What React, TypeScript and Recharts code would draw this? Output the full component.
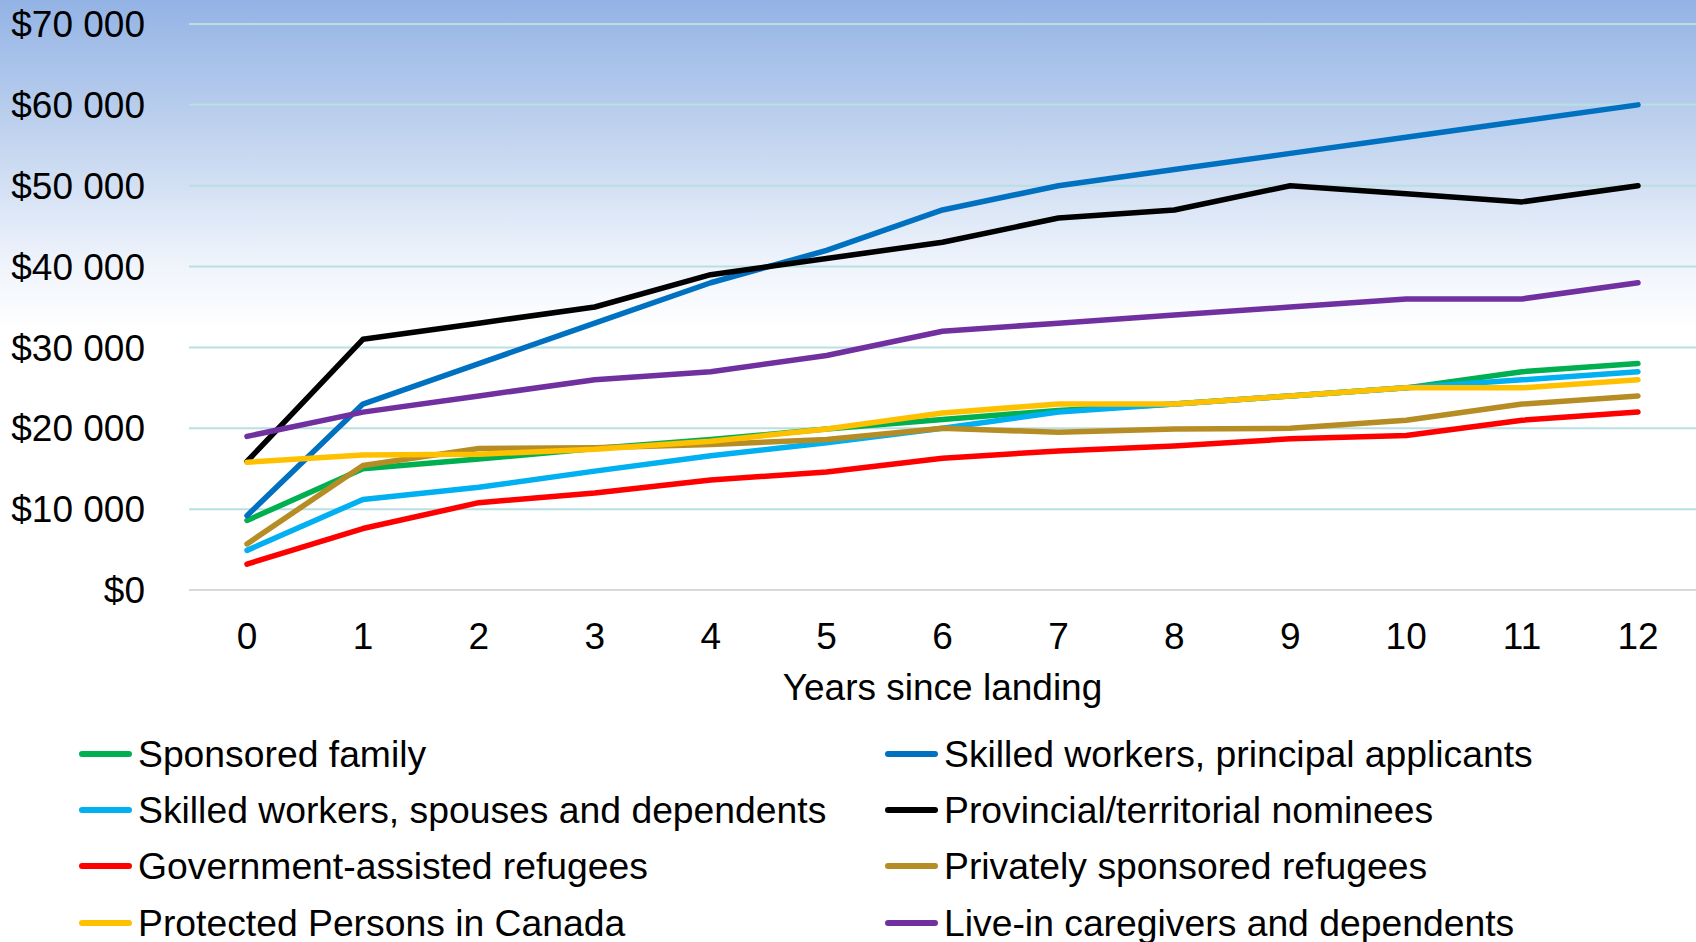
import React from "react";
import {
  LineChart,
  Line,
  XAxis,
  YAxis,
  CartesianGrid,
} from "recharts";

const years = ["0", "1", "2", "3", "4", "5", "6", "7", "8", "9", "10", "11", "12"];
const yTicks = [0, 10000, 20000, 30000, 40000, 50000, 60000, 70000];

const sponsoredFamily = [8600, 15000, 16200, 17500, 18600, 19900, 21100, 22200, 23000, 24000, 25000, 27000, 28000];
const skilledPrincipal = [9200, 23000, 28000, 33000, 38000, 42000, 47000, 50000, 52000, 54000, 56000, 58000, 60000];
const skilledSpouses = [4900, 11200, 12700, 14700, 16600, 18200, 20000, 22000, 23000, 24000, 25000, 26000, 27000];
const provincialNominees = [15900, 31000, 33000, 35000, 39000, 41000, 43000, 46000, 47000, 50000, 49000, 48000, 50000];
const govAssisted = [3200, 7600, 10800, 12000, 13600, 14600, 16300, 17200, 17800, 18700, 19100, 21000, 22000];
const privatelySponsored = [5700, 15400, 17500, 17600, 18000, 18600, 20000, 19500, 19900, 20000, 21000, 23000, 24000];
const protectedPersons = [15800, 16700, 16800, 17400, 18400, 19900, 21900, 23000, 23000, 24000, 25000, 25000, 26000];
const caregivers = [19000, 22000, 24000, 26000, 27000, 29000, 32000, 33000, 34000, 35000, 36000, 36000, 38000];

const series = [
  { key: "sf", name: "Sponsored family", color: "#00b050", values: sponsoredFamily },
  { key: "swp", name: "Skilled workers, principal applicants", color: "#0070c0", values: skilledPrincipal },
  { key: "sws", name: "Skilled workers, spouses and dependents", color: "#00b0f0", values: skilledSpouses },
  { key: "pn", name: "Provincial/territorial nominees", color: "#000000", values: provincialNominees },
  { key: "gar", name: "Government-assisted refugees", color: "#ff0000", values: govAssisted },
  { key: "psr", name: "Privately sponsored refugees", color: "#b68d24", values: privatelySponsored },
  { key: "pp", name: "Protected Persons in Canada", color: "#ffc000", values: protectedPersons },
  { key: "lc", name: "Live-in caregivers and dependents", color: "#7030a0", values: caregivers },
];

const data = years.map((year, i) => {
  const row: Record<string, string | number> = { year };
  series.forEach((s) => {
    row[s.key] = s.values[i];
  });
  return row;
});

const FONT = "'Liberation Sans', Arial, sans-serif";

const formatMoney = (v: number) =>
  "$" + String(v).replace(/\B(?=(\d{3})+(?!\d))/g, " ");

export default function App() {
  const rowsY = [734, 790, 846, 903];
  return (
    <div
      style={{
        position: "absolute",
        left: 0,
        top: 0,
        width: 1696,
        height: 942,
        overflow: "hidden",
        fontFamily: FONT,
        background:
          "linear-gradient(to bottom, #93b3e5 0px, #c6d7f0 150px, #eef3fb 260px, #ffffff 330px)",
      }}
    >
      <LineChart
        width={1696}
        height={942}
        data={data}
        margin={{ top: 24, right: 0, left: 0, bottom: 232 }}
      >
        <CartesianGrid vertical={false} stroke="#b9dfe3" strokeWidth={2} />
        <XAxis
          dataKey="year"
          height={120}
          padding={{ left: 58, right: 58 }}
          tickSize={0}
          tickMargin={33}
          axisLine={{ stroke: "#d9d9d9", strokeWidth: 2 }}
          tickLine={false}
          tick={{ fontSize: 37, fill: "#000", fontFamily: FONT }}
          label={{
            value: "Years since landing",
            position: "insideBottom",
            offset: 10,
            fontSize: 37,
            fill: "#000",
            fontFamily: FONT,
          }}
        />
        <YAxis
          width={189}
          domain={[0, 70000]}
          ticks={yTicks}
          tickFormatter={formatMoney}
          tickSize={0}
          tickMargin={44}
          axisLine={false}
          tickLine={false}
          tick={{ fontSize: 37, fill: "#000", fontFamily: FONT }}
        />
        {series.map((s) => (
          <Line
            key={s.key}
            dataKey={s.key}
            name={s.name}
            stroke={s.color}
            strokeWidth={5.5}
            strokeLinecap="round"
            strokeLinejoin="round"
            dot={false}
            activeDot={false}
            isAnimationActive={false}
          />
        ))}
      </LineChart>
      {series.map((s, i) => {
        const col = i % 2;
        const row = Math.floor(i / 2);
        return (
          <div
            key={s.key}
            style={{
              position: "absolute",
              left: col === 0 ? 79 : 885,
              top: rowsY[row],
              height: 40,
              lineHeight: "40px",
              display: "flex",
              alignItems: "center",
              fontSize: 37.3,
              color: "#000",
              whiteSpace: "nowrap",
            }}
          >
            <span
              style={{
                display: "inline-block",
                width: 53,
                height: 5.5,
                borderRadius: 3,
                background: s.color,
                marginRight: 6,
              }}
            />
            <span>{s.name}</span>
          </div>
        );
      })}
    </div>
  );
}
